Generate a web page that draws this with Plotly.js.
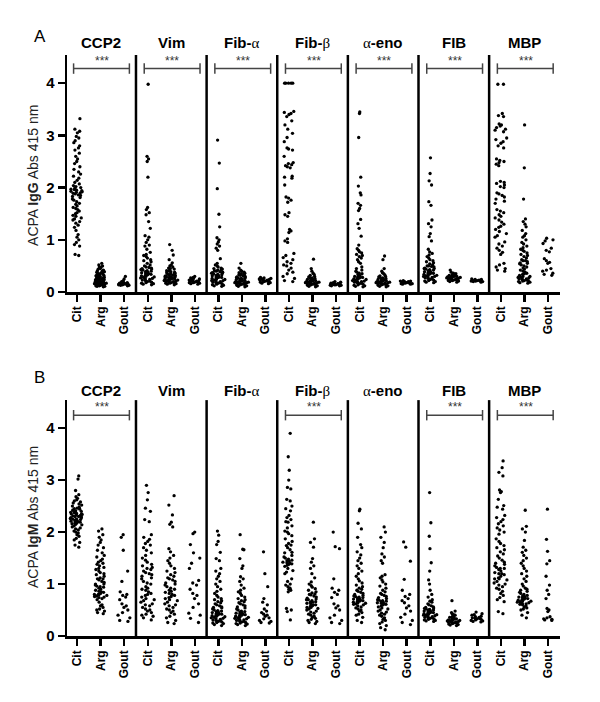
<!DOCTYPE html>
<html>
<head>
<meta charset="utf-8">
<script src="https://cdn.plot.ly/plotly-3.0.1.min.js"></script>
<style>
html,body{margin:0;padding:0;background:#fff;}
#chart{width:600px;height:702px;}
</style>
</head>
<body>
<div id="chart"></div>
<script>
// ---------- categories / labels ----------
const antigenLabels = ['CCP2', 'Vim', 'Fib-α', 'Fib-β', 'α-eno', 'FIB', 'MBP'];
const groupLabels = ['Cit', 'Arg', 'Gout'];
const iggSignificance = ['***', '***', '***', '***', '***', '***', '***'];
const igmSignificance = ['***', '', '', '***', '', '***', '***'];

// ---------- panel A: IgG ----------
const iggCCP2Cit = [3.32,3.12,3.08,3.05,2.98,2.95,2.90,2.86,2.80,2.76,2.72,2.66,2.60,2.55,2.50,2.46,2.40,2.35,2.30,2.26,2.22,2.18,2.14,2.10,2.07,2.04,2.02,2.00,1.99,1.97,1.96,1.95,1.94,1.93,1.92,1.91,1.90,1.89,1.88,1.86,1.85,1.83,1.81,1.78,1.76,1.73,1.70,1.68,1.65,1.62,1.60,1.58,1.55,1.52,1.50,1.47,1.45,1.42,1.40,1.38,1.35,1.32,1.28,1.24,1.18,1.10,1.05,1.00,0.95,0.91,0.88,0.72,0.70];
const iggCCP2Arg = [0.55,0.52,0.50,0.48,0.47,0.45,0.44,0.42,0.41,0.40,0.39,0.38,0.37,0.36,0.35,0.35,0.34,0.33,0.32,0.32,0.31,0.30,0.30,0.29,0.28,0.28,0.27,0.26,0.26,0.25,0.25,0.24,0.24,0.23,0.23,0.22,0.22,0.21,0.21,0.20,0.20,0.20,0.19,0.19,0.18,0.18,0.18,0.17,0.17,0.16,0.16,0.16,0.15,0.15,0.15,0.14,0.14,0.13,0.13,0.12,0.12,0.11,0.11,0.10];
const iggCCP2Gout = [0.30,0.25,0.22,0.20,0.19,0.18,0.17,0.17,0.16,0.16,0.16,0.15,0.15,0.15,0.15,0.14,0.14,0.14,0.13,0.13,0.12];

const iggVimCit = [3.98,2.60,2.55,2.50,2.20,1.62,1.58,1.52,1.48,1.35,1.22,1.08,1.05,1.00,0.95,0.90,0.88,0.82,0.76,0.72,0.70,0.68,0.65,0.62,0.60,0.58,0.55,0.52,0.50,0.48,0.47,0.46,0.45,0.44,0.43,0.42,0.41,0.40,0.39,0.38,0.37,0.36,0.35,0.34,0.33,0.32,0.31,0.30,0.29,0.28,0.27,0.26,0.25,0.24,0.23,0.22,0.21,0.20,0.19,0.18,0.17,0.16,0.15,0.14];
const iggVimArg = [0.91,0.80,0.71,0.62,0.56,0.52,0.50,0.48,0.46,0.45,0.44,0.42,0.41,0.40,0.39,0.38,0.37,0.36,0.35,0.34,0.34,0.33,0.32,0.32,0.31,0.30,0.30,0.29,0.29,0.28,0.28,0.27,0.27,0.26,0.26,0.25,0.25,0.24,0.24,0.23,0.23,0.22,0.22,0.21,0.21,0.20,0.20,0.19,0.19,0.18,0.18,0.17,0.17,0.16,0.15,0.14];
const iggVimGout = [0.30,0.28,0.27,0.26,0.25,0.24,0.23,0.22,0.22,0.21,0.21,0.20,0.20,0.19,0.19,0.18,0.18,0.17,0.16,0.15];

const iggFibACit = [2.91,2.47,1.98,1.49,1.25,1.04,1.00,0.96,0.92,0.88,0.84,0.80,0.64,0.55,0.52,0.50,0.48,0.46,0.45,0.44,0.42,0.41,0.40,0.39,0.38,0.37,0.36,0.35,0.34,0.33,0.32,0.31,0.30,0.29,0.28,0.27,0.26,0.25,0.24,0.23,0.22,0.21,0.20,0.19,0.18,0.17,0.16,0.15,0.14,0.13,0.12,0.11,0.28,0.32,0.22,0.18,0.36,0.42];
const iggFibAArg = [0.55,0.46,0.42,0.40,0.38,0.37,0.36,0.35,0.34,0.33,0.32,0.31,0.30,0.29,0.28,0.28,0.27,0.26,0.26,0.25,0.24,0.24,0.23,0.22,0.22,0.21,0.21,0.20,0.20,0.19,0.19,0.18,0.18,0.17,0.17,0.16,0.16,0.15,0.15,0.14,0.14,0.13,0.12,0.11,0.10];
const iggFibAGout = [0.28,0.27,0.26,0.25,0.25,0.24,0.23,0.23,0.22,0.22,0.21,0.21,0.20,0.20,0.19,0.18,0.17,0.16];

const iggFibBCit = [4.0,4.0,4.0,4.0,4.0,3.46,3.44,3.42,3.40,3.36,3.28,3.20,3.12,3.04,2.96,2.88,2.76,2.74,2.72,2.60,2.48,2.46,2.44,2.42,2.40,2.38,2.22,2.20,2.18,2.05,1.82,1.80,1.76,1.72,1.52,1.48,1.45,1.20,1.17,1.14,1.02,0.98,0.95,0.74,0.70,0.66,0.62,0.58,0.55,0.52,0.50,0.46,0.42,0.38,0.35,0.30,0.26,0.22,0.20];
const iggFibBArg = [0.63,0.45,0.40,0.36,0.34,0.32,0.30,0.29,0.28,0.27,0.26,0.25,0.24,0.24,0.23,0.22,0.22,0.21,0.21,0.20,0.20,0.19,0.19,0.18,0.18,0.17,0.17,0.16,0.16,0.15,0.15,0.14,0.14,0.13,0.12,0.11,0.10];
const iggFibBGout = [0.20,0.19,0.18,0.17,0.17,0.16,0.16,0.15,0.15,0.15,0.14,0.14,0.14,0.13,0.13,0.12,0.12];

const iggAenoCit = [3.45,3.42,2.96,2.20,2.03,1.90,1.86,1.70,1.66,1.60,1.56,1.39,1.31,1.22,1.07,0.90,0.83,0.80,0.77,0.75,0.72,0.70,0.68,0.65,0.62,0.58,0.55,0.48,0.45,0.42,0.40,0.38,0.36,0.34,0.32,0.30,0.29,0.28,0.27,0.26,0.25,0.24,0.23,0.22,0.21,0.20,0.19,0.18,0.17,0.16,0.15,0.14,0.13,0.12,0.11,0.10,0.30,0.25,0.20,0.35];
const iggAenoArg = [0.69,0.62,0.45,0.40,0.37,0.35,0.33,0.31,0.30,0.29,0.28,0.27,0.26,0.25,0.25,0.24,0.23,0.23,0.22,0.21,0.21,0.20,0.20,0.19,0.19,0.18,0.18,0.17,0.17,0.16,0.16,0.15,0.15,0.14,0.14,0.13,0.12,0.11,0.10];
const iggAenoGout = [0.22,0.21,0.21,0.20,0.20,0.19,0.19,0.18,0.18,0.17,0.17,0.16,0.16,0.15,0.15];

const iggFIBCit = [2.57,2.27,2.13,2.05,1.73,1.66,1.38,1.31,1.25,1.12,1.06,0.98,0.82,0.77,0.74,0.71,0.68,0.65,0.62,0.60,0.58,0.56,0.54,0.52,0.50,0.49,0.48,0.46,0.45,0.44,0.43,0.42,0.41,0.40,0.39,0.38,0.37,0.36,0.35,0.34,0.33,0.32,0.31,0.30,0.29,0.28,0.27,0.26,0.25,0.24,0.23,0.22,0.21,0.20,0.19,0.18,0.50,0.45,0.35,0.30];
const iggFIBArg = [0.42,0.38,0.36,0.35,0.34,0.33,0.32,0.31,0.31,0.30,0.30,0.29,0.29,0.28,0.28,0.27,0.27,0.26,0.26,0.25,0.25,0.24,0.24,0.23,0.23,0.22,0.22,0.21,0.20,0.19];
const iggFIBGout = [0.25,0.24,0.24,0.23,0.23,0.22,0.22,0.22,0.21,0.21,0.21,0.20,0.20,0.19];

const iggMBPCit = [3.98,3.98,3.42,3.38,3.36,3.22,3.20,3.18,3.15,3.12,3.10,3.07,2.95,2.92,2.88,2.85,2.80,2.76,2.55,2.52,2.50,2.48,2.45,2.42,2.12,2.10,2.08,2.05,2.02,2.00,1.90,1.88,1.85,1.82,1.78,1.74,1.70,1.58,1.55,1.52,1.48,1.45,1.42,1.38,1.34,1.30,1.26,1.24,1.20,1.16,1.12,1.08,1.05,0.96,0.92,0.88,0.84,0.80,0.76,0.72,0.55,0.52,0.48,0.45,0.42,0.40];
const iggMBPArg = [3.20,2.38,1.78,1.40,1.35,1.30,1.25,1.18,1.12,1.08,1.05,1.00,0.95,0.92,0.88,0.85,0.82,0.80,0.78,0.75,0.72,0.70,0.68,0.65,0.62,0.60,0.58,0.56,0.54,0.52,0.50,0.48,0.46,0.44,0.42,0.40,0.38,0.36,0.34,0.32,0.30,0.29,0.28,0.27,0.26,0.25,0.24,0.23,0.22,0.21,0.20,0.19,0.18,0.17,0.60,0.55,0.35,0.30,0.25,0.22];
const iggMBPGout = [1.03,1.00,0.98,0.93,0.84,0.80,0.77,0.64,0.60,0.57,0.55,0.45,0.42,0.40,0.36,0.34,0.32];

// ---------- panel B: IgM ----------
const igmCCP2Cit = [3.08,3.02,2.80,2.72,2.68,2.65,2.62,2.60,2.58,2.56,2.54,2.52,2.50,2.48,2.46,2.45,2.44,2.42,2.41,2.40,2.39,2.38,2.37,2.36,2.35,2.34,2.33,2.32,2.31,2.30,2.29,2.28,2.27,2.26,2.25,2.24,2.23,2.22,2.21,2.20,2.19,2.18,2.17,2.16,2.15,2.14,2.12,2.10,2.08,2.06,2.04,2.02,2.00,1.98,1.95,1.92,1.88,1.85,1.80,1.75,1.71,2.30,2.25,2.35,2.20];
const igmCCP2Arg = [2.06,2.02,1.95,1.90,1.85,1.80,1.75,1.70,1.65,1.60,1.55,1.52,1.48,1.45,1.42,1.40,1.38,1.35,1.32,1.30,1.28,1.25,1.22,1.20,1.18,1.15,1.12,1.10,1.08,1.05,1.03,1.00,0.98,0.96,0.94,0.92,0.90,0.88,0.86,0.84,0.82,0.80,0.79,0.78,0.77,0.76,0.75,0.74,0.72,0.70,0.65,0.60,0.58,0.55,0.52,0.50,0.48,0.45,0.43,1.00,0.95,0.85,0.80,1.10];
const igmCCP2Gout = [1.95,1.90,1.65,1.25,1.05,0.85,0.80,0.78,0.75,0.70,0.62,0.58,0.55,0.50,0.45,0.40,0.35,0.30,0.28];

const igmVimCit = [2.90,2.76,2.62,2.46,2.40,2.24,2.20,1.95,1.90,1.86,1.82,1.78,1.75,1.70,1.65,1.60,1.55,1.50,1.46,1.42,1.38,1.35,1.32,1.30,1.28,1.25,1.22,1.20,1.18,1.15,1.12,1.10,1.05,1.02,1.00,0.95,0.92,0.90,0.88,0.85,0.82,0.80,0.78,0.75,0.72,0.70,0.68,0.65,0.62,0.60,0.58,0.55,0.52,0.50,0.48,0.45,0.42,0.40,0.38,0.35,0.31];
const igmVimArg = [2.70,2.52,2.33,2.19,2.15,2.10,1.68,1.62,1.55,1.50,1.45,1.40,1.35,1.30,1.25,1.22,1.18,1.15,1.12,1.10,1.08,1.05,1.02,1.00,0.98,0.95,0.92,0.90,0.88,0.86,0.84,0.82,0.80,0.78,0.76,0.74,0.72,0.70,0.68,0.65,0.62,0.60,0.58,0.55,0.52,0.50,0.48,0.45,0.42,0.38,0.35,0.30,0.26,0.24];
const igmVimGout = [2.00,1.97,1.76,1.60,1.50,1.40,1.30,1.07,1.02,0.98,0.90,0.82,0.78,0.72,0.62,0.55,0.44,0.40,0.34,0.26];

const igmFibACit = [2.02,1.94,1.82,1.76,1.61,1.49,1.45,1.30,1.25,1.20,1.15,1.10,1.05,1.00,0.95,0.90,0.86,0.82,0.78,0.75,0.72,0.70,0.68,0.66,0.64,0.62,0.60,0.58,0.56,0.55,0.54,0.52,0.50,0.49,0.48,0.47,0.46,0.45,0.44,0.43,0.42,0.41,0.40,0.39,0.38,0.37,0.36,0.35,0.34,0.33,0.32,0.31,0.30,0.29,0.28,0.27,0.26,0.25,0.24,0.22,0.20];
const igmFibAArg = [1.95,1.67,1.66,1.49,1.35,1.30,1.14,1.10,1.05,0.98,0.92,0.88,0.85,0.82,0.78,0.75,0.72,0.70,0.68,0.66,0.64,0.62,0.60,0.58,0.56,0.54,0.52,0.50,0.48,0.47,0.46,0.45,0.44,0.43,0.42,0.41,0.40,0.39,0.38,0.37,0.36,0.35,0.34,0.33,0.32,0.31,0.30,0.29,0.28,0.27,0.26,0.25,0.24,0.23,0.22,0.20];
const igmFibAGout = [1.62,1.20,0.95,0.72,0.65,0.60,0.52,0.48,0.45,0.42,0.40,0.38,0.35,0.33,0.30,0.28,0.26,0.25];

const igmFibBCit = [3.90,3.45,3.19,3.00,2.86,2.83,2.63,2.60,2.50,2.45,2.41,2.32,2.28,2.24,2.19,2.12,2.08,2.02,1.97,1.93,1.87,1.82,1.78,1.74,1.70,1.66,1.61,1.55,1.52,1.50,1.48,1.46,1.45,1.44,1.42,1.41,1.40,1.39,1.38,1.36,1.34,1.30,1.26,1.23,1.20,1.10,1.05,1.00,0.98,0.95,0.92,0.90,0.88,0.85,0.53,0.50,0.47,0.31,1.60,1.75,2.00,2.20];
const igmFibBArg = [2.19,1.87,1.80,1.71,1.49,1.42,1.35,1.30,1.20,1.12,1.04,1.00,0.97,0.94,0.91,0.88,0.85,0.83,0.81,0.79,0.77,0.75,0.73,0.71,0.70,0.68,0.66,0.65,0.63,0.62,0.60,0.58,0.57,0.55,0.53,0.52,0.50,0.48,0.46,0.44,0.42,0.40,0.38,0.36,0.34,0.32,0.30,0.28,0.26,0.24,0.60,0.70,0.80,0.55,0.65];
const igmFibBGout = [2.00,1.72,1.68,1.10,0.92,0.88,0.84,0.80,0.74,0.62,0.58,0.54,0.50,0.40,0.35,0.30,0.26,0.24];

const igmAenoCit = [2.44,2.41,2.17,2.06,1.90,1.76,1.70,1.62,1.56,1.50,1.45,1.40,1.35,1.30,1.25,1.20,1.15,1.10,1.06,1.02,0.98,0.95,0.92,0.90,0.88,0.86,0.84,0.82,0.80,0.78,0.77,0.76,0.75,0.74,0.73,0.72,0.71,0.70,0.69,0.68,0.67,0.66,0.65,0.64,0.63,0.62,0.61,0.60,0.58,0.56,0.54,0.52,0.50,0.48,0.45,0.42,0.40,0.36,0.30,0.26];
const igmAenoArg = [2.10,2.00,1.90,1.80,1.70,1.58,1.52,1.45,1.40,1.18,1.15,1.12,1.08,1.04,1.00,0.96,0.92,0.88,0.85,0.82,0.80,0.78,0.76,0.74,0.72,0.70,0.69,0.68,0.67,0.66,0.65,0.64,0.63,0.62,0.61,0.60,0.58,0.56,0.54,0.52,0.50,0.48,0.46,0.44,0.42,0.40,0.38,0.35,0.32,0.30,0.27,0.24,0.20,0.16,0.12];
const igmAenoGout = [1.81,1.71,1.44,1.09,0.88,0.80,0.76,0.72,0.68,0.64,0.58,0.54,0.48,0.42,0.36,0.30,0.26,0.22];

const igmFIBCit = [2.76,2.18,1.92,1.68,1.41,1.25,1.08,1.00,0.88,0.80,0.75,0.70,0.67,0.65,0.62,0.60,0.58,0.56,0.55,0.54,0.53,0.52,0.51,0.50,0.49,0.48,0.47,0.46,0.45,0.44,0.43,0.42,0.41,0.40,0.39,0.38,0.37,0.36,0.35,0.34,0.33,0.32,0.31,0.30,0.29,0.28,0.50,0.45,0.40,0.35];
const igmFIBArg = [0.68,0.48,0.45,0.43,0.41,0.40,0.38,0.37,0.36,0.35,0.34,0.33,0.32,0.32,0.31,0.30,0.30,0.29,0.29,0.28,0.28,0.27,0.27,0.26,0.26,0.25,0.25,0.24,0.23,0.22,0.21,0.20];
const igmFIBGout = [0.46,0.43,0.41,0.40,0.38,0.37,0.36,0.35,0.34,0.34,0.33,0.32,0.31,0.30,0.29,0.28,0.27];

const igmMBPCit = [3.37,3.24,3.15,3.08,2.81,2.78,2.76,2.63,2.51,2.48,2.44,2.32,2.28,2.24,2.20,2.16,2.12,2.08,2.04,2.00,1.96,1.87,1.82,1.78,1.74,1.70,1.66,1.62,1.58,1.54,1.50,1.46,1.42,1.40,1.38,1.35,1.32,1.30,1.28,1.25,1.22,1.20,1.18,1.15,1.12,1.10,1.08,1.05,1.02,1.00,0.98,0.95,0.92,0.90,0.86,0.82,0.78,0.74,0.70,0.66,0.47,0.43,1.30,1.20,1.10];
const igmMBPArg = [2.42,2.11,2.06,2.00,1.84,1.71,1.65,1.61,1.55,1.50,1.45,1.40,1.35,1.30,1.25,1.20,1.15,1.10,1.05,1.00,0.96,0.92,0.90,0.88,0.86,0.84,0.82,0.80,0.78,0.77,0.76,0.75,0.74,0.73,0.72,0.71,0.70,0.69,0.68,0.67,0.66,0.65,0.64,0.63,0.62,0.61,0.60,0.58,0.56,0.54,0.52,0.50,0.45,0.40,0.35];
const igmMBPGout = [2.44,1.86,1.63,1.45,1.39,1.15,0.98,0.88,0.80,0.72,0.53,0.50,0.47,0.37,0.35,0.33,0.32,0.31,0.30];

// ---------- build ----------
const iggSets = [
  [iggCCP2Cit, iggCCP2Arg, iggCCP2Gout],
  [iggVimCit, iggVimArg, iggVimGout],
  [iggFibACit, iggFibAArg, iggFibAGout],
  [iggFibBCit, iggFibBArg, iggFibBGout],
  [iggAenoCit, iggAenoArg, iggAenoGout],
  [iggFIBCit, iggFIBArg, iggFIBGout],
  [iggMBPCit, iggMBPArg, iggMBPGout]
];
const igmSets = [
  [igmCCP2Cit, igmCCP2Arg, igmCCP2Gout],
  [igmVimCit, igmVimArg, igmVimGout],
  [igmFibACit, igmFibAArg, igmFibAGout],
  [igmFibBCit, igmFibBArg, igmFibBGout],
  [igmAenoCit, igmAenoArg, igmAenoGout],
  [igmFIBCit, igmFIBArg, igmFIBGout],
  [igmMBPCit, igmMBPArg, igmMBPGout]
];

const FONT = 'Liberation Sans, Arial, Helvetica, sans-serif';
const SERIF = 'Liberation Serif, DejaVu Serif, serif';

function titleHTML(label) {
  return label.replace(/([αβ])/g, "<span style=\"font-family:" + SERIF + ";font-weight:normal\">$1</span>");
}

const traces = [];
function addPanel(sets, xa, ya) {
  sets.forEach((grp, k) => {
    grp.forEach((vals, j) => {
      traces.push({
        type: 'box',
        x0: k * 3 + j,
        y: vals,
        xaxis: xa,
        yaxis: ya,
        width: 0.62,
        boxpoints: 'all',
        jitter: 1,
        pointpos: 0,
        fillcolor: 'rgba(0,0,0,0)',
        line: {width: 0, color: 'rgba(0,0,0,0)'},
        marker: {color: '#000', size: 3.3, line: {width: 0}},
        hoverinfo: 'skip',
        showlegend: false
      });
    });
  });
}
addPanel(iggSets, 'x', 'y');
addPanel(igmSets, 'x2', 'y2');

const tickvals = [];
const ticktext = [];
for (let k = 0; k < antigenLabels.length; k++) {
  for (let j = 0; j < groupLabels.length; j++) {
    tickvals.push(k * 3 + j);
    ticktext.push(groupLabels[j]);
  }
}

const shapes = [];
const annotations = [];

function decorate(xa, ya, sig, bracketY, starY, titleY, letter, letterY, yTitle, yTitleY) {
  const xref = xa;
  const yref = ya;
  // separators
  for (let k = 1; k < antigenLabels.length; k++) {
    shapes.push({type: 'line', xref: xref, yref: yref + ' domain', x0: k * 3 - 0.5, x1: k * 3 - 0.5, y0: 0, y1: 1,
      line: {color: '#000', width: 2.5}});
  }
  antigenLabels.forEach((lab, k) => {
    annotations.push({xref: xref, yref: 'paper', x: k * 3 + 1, y: titleY, text: '<b>' + titleHTML(lab) + '</b>',
      showarrow: false, xanchor: 'center', yanchor: 'middle', font: {family: FONT, size: 15, color: '#000'}});
    if (sig[k]) {
      const xa0 = k * 3 - 0.15, xa1 = k * 3 + 2 + 0.22;
      shapes.push({type: 'line', xref: xref, yref: yref, x0: xa0, x1: xa1, y0: bracketY, y1: bracketY, line: {color: '#444', width: 1.5}});
      shapes.push({type: 'line', xref: xref, yref: yref, x0: xa0, x1: xa0, y0: bracketY - 0.1, y1: bracketY + 0.1, line: {color: '#444', width: 1.5}});
      shapes.push({type: 'line', xref: xref, yref: yref, x0: xa1, x1: xa1, y0: bracketY - 0.1, y1: bracketY + 0.1, line: {color: '#444', width: 1.5}});
      annotations.push({xref: xref, yref: yref, x: k * 3 + 1.05, y: starY, text: sig[k], showarrow: false,
        xanchor: 'center', yanchor: 'middle', font: {family: FONT, size: 12, color: '#333'}});
    }
  });
  annotations.push({xref: 'paper', yref: 'paper', x: -0.071, y: letterY, text: letter, showarrow: false,
    xanchor: 'left', yanchor: 'middle', font: {family: FONT, size: 17, color: '#000'}});
  annotations.push({xref: 'paper', yref: 'paper', x: -0.069, y: yTitleY, text: yTitle, showarrow: false, textangle: -90,
    xanchor: 'center', yanchor: 'middle', font: {family: FONT, size: 14, color: '#222'}});
}

decorate('x', 'y', iggSignificance, 4.28, 4.43, 1.0207, 'A', 1.0327, 'ACPA <b>IgG</b> Abs 415 nm', 0.7935);
decorate('x2', 'y2', igmSignificance, 4.25, 4.40, 0.4234, 'B', 0.445, 'ACPA <b>IgM</b> Abs 415 nm', 0.2048);

const xaxisBase = {
  range: [-0.43, 20.51],
  tickmode: 'array',
  tickvals: tickvals,
  ticktext: ticktext,
  tickangle: -90,
  ticks: 'outside',
  ticklen: 7,
  tickwidth: 2.5,
  tickcolor: '#000',
  showline: true,
  linecolor: '#000',
  linewidth: 2.5,
  showgrid: false,
  zeroline: false,
  tickfont: {family: FONT, size: 12, color: '#000', weight: 'bold'},
  fixedrange: true
};
const yaxisBase = {
  range: [0, 4.54],
  tickmode: 'array',
  tickvals: [0, 1, 2, 3, 4],
  ticktext: ['0', '1', '2', '3', '4'],
  ticks: 'outside',
  ticklen: 7,
  tickwidth: 2.5,
  tickcolor: '#000',
  showline: true,
  linecolor: '#000',
  linewidth: 2.5,
  showgrid: false,
  zeroline: false,
  tickfont: {family: FONT, size: 15, color: '#000', weight: 'bold'},
  fixedrange: true
};

const layout = {
  width: 600,
  height: 702,
  margin: {l: 67, r: 40, t: 55, b: 66},
  paper_bgcolor: '#fff',
  plot_bgcolor: '#fff',
  showlegend: false,
  hovermode: false,
  boxmode: 'overlay',
  font: {family: FONT, color: '#000'},
  xaxis: Object.assign({}, xaxisBase, {anchor: 'y', domain: [0, 1]}),
  yaxis: Object.assign({}, yaxisBase, {anchor: 'x', domain: [0.592, 1]}),
  xaxis2: Object.assign({}, xaxisBase, {anchor: 'y2', domain: [0, 1]}),
  yaxis2: Object.assign({}, yaxisBase, {anchor: 'x2', domain: [0, 0.406]}),
  shapes: shapes,
  annotations: annotations
};

Plotly.newPlot('chart', traces, layout, {staticPlot: true, displayModeBar: false});
</script>
</body>
</html>
